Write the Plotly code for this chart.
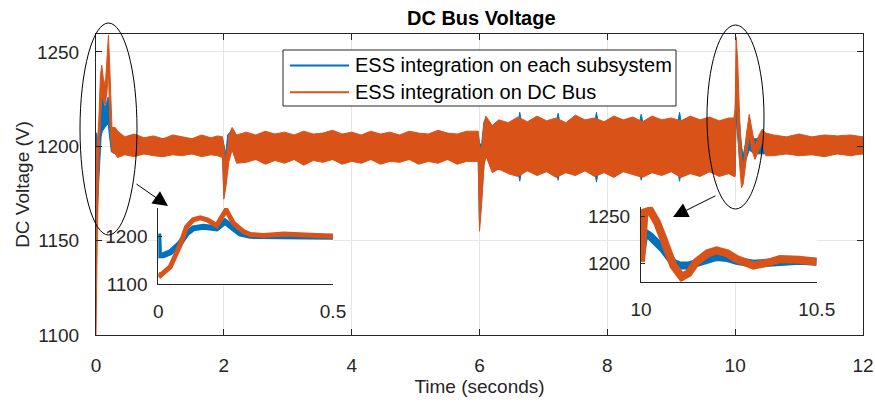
import plotly.graph_objects as go

BLUE = '#0072BD'
ORANGE = '#D95319'
AX = '#262626'
FONT = 'Liberation Sans, Arial, sans-serif'

# ---------------- main series (envelope of the noisy band) ----------------
t_orange = [0.0, 0.02, 0.045, 0.07, 0.09, 0.115, 0.145, 0.175, 0.195, 0.22, 0.25, 0.30, 0.34,
            0.45, 0.6, 0.75, 0.9, 1.05, 1.2, 1.35, 1.5, 1.65, 1.8, 1.9, 1.98,
            2.0, 2.03, 2.08, 2.13, 2.2, 2.35, 2.5, 2.65, 2.8, 2.95, 3.1, 3.25, 3.4, 3.55, 3.7, 3.85,
            4.0, 4.15, 4.3, 4.45, 4.6, 4.75, 4.9, 5.05, 5.2, 5.35, 5.5, 5.65, 5.8, 5.98,
            6.0, 6.03, 6.07, 6.1, 6.2, 6.3, 6.45, 6.6, 6.75, 6.9, 7.05, 7.2, 7.35, 7.5, 7.65, 7.8,
            7.95, 8.1, 8.25, 8.4, 8.55, 8.7, 8.85, 9.0, 9.15, 9.3, 9.45, 9.6, 9.75, 9.9, 9.98,
            10.0, 10.015, 10.04, 10.07, 10.1, 10.125, 10.17, 10.22, 10.26, 10.31, 10.36, 10.42, 10.48,
            10.6, 10.8, 11.0, 11.2, 11.4, 11.6, 11.8, 12.0]
up_orange = [1200, 1200, 1215, 1238, 1243, 1236, 1232, 1248, 1259, 1238, 1210, 1210, 1208,
             1205, 1206.5, 1204.5, 1205.5, 1204, 1206, 1205, 1204, 1206, 1204.5, 1205.5, 1205,
             1200, 1192, 1206, 1210, 1206, 1207.5, 1206, 1208, 1206.5, 1207.5, 1206, 1208, 1206.5, 1207, 1208.5, 1206.5,
             1207.5, 1206, 1208, 1206.5, 1207.5, 1206, 1208, 1207, 1206.5, 1208.5, 1207, 1206.5, 1208, 1208,
             1200, 1198, 1212, 1216, 1211, 1214, 1212.5, 1215.5, 1213, 1216, 1213.5, 1215, 1212.5, 1216.5, 1214, 1215,
             1213, 1216, 1214, 1215.5, 1213, 1216, 1214, 1215, 1213.5, 1216, 1214, 1215.5, 1213.5, 1215, 1215,
             1220, 1258, 1245, 1215, 1195, 1188, 1205, 1217, 1210, 1200, 1205, 1209, 1207,
             1206, 1205, 1206.5, 1205, 1206, 1205.5, 1206, 1205]
lo_orange = [1100, 1150, 1195, 1215, 1228, 1224, 1222, 1230, 1240, 1210, 1197, 1196, 1194,
             1195.5, 1194.5, 1196, 1195, 1194.5, 1195.5, 1195, 1196, 1194.5, 1195.5, 1195, 1194,
             1172, 1178, 1192, 1198, 1191, 1191.5, 1193, 1190.5, 1192.5, 1191, 1193, 1190, 1192.5, 1191.5, 1193, 1190.5,
             1192, 1191, 1193, 1190.5, 1192, 1191.5, 1193, 1190.5, 1192, 1191, 1193, 1190.5, 1192, 1192,
             1155, 1168, 1190, 1195, 1186, 1188, 1185.5, 1184, 1187, 1184.5, 1186.5, 1183.5, 1186, 1184.5, 1187, 1184,
             1186, 1183.5, 1186.5, 1185, 1183.5, 1186, 1184.5, 1186.5, 1183.5, 1185.5, 1184, 1186.5, 1184, 1185.5, 1184,
             1184, 1230, 1210, 1190, 1178, 1180, 1192, 1206, 1198, 1193, 1197, 1202, 1195,
             1195, 1196, 1195, 1195.5, 1194.5, 1196, 1195, 1196]

t_blue = [0.0, 0.01, 0.04, 0.08, 0.10, 0.14, 0.19, 0.24, 0.30, 1.98,
          2.0, 2.03, 2.06, 2.13, 2.2, 5.98,
          6.0, 6.03, 6.07, 6.1, 6.2,
          6.6, 6.63, 6.66, 7.2, 7.23, 7.26, 7.8, 7.83, 7.86, 8.5, 8.53, 8.56, 9.1, 9.13, 9.16, 9.98,
          10.0, 10.015, 10.04, 10.07, 10.1, 10.125, 10.17, 10.22, 10.3, 12.0]
up_blue = [1207, 1207, 1200, 1222, 1226, 1220, 1226, 1210, 1204, 1204,
           1201, 1196, 1206, 1209, 1205, 1206,
           1202, 1200, 1213, 1215, 1210,
           1212, 1218, 1212, 1212, 1217.5, 1212, 1212, 1218, 1212, 1212, 1217, 1212, 1212, 1218, 1212, 1213,
           1218, 1235, 1230, 1212, 1200, 1195, 1203, 1208, 1204, 1204]
lo_blue = [1200, 1160, 1175, 1205, 1208, 1210, 1212, 1197, 1196, 1196,
           1174, 1180, 1194, 1199, 1193, 1193,
           1158, 1170, 1190, 1195, 1188,
           1187, 1181.5, 1187, 1187, 1182, 1187, 1187, 1181, 1187, 1187, 1182, 1187, 1187, 1181.5, 1187, 1186,
           1185, 1215, 1205, 1192, 1188, 1186, 1193, 1198, 1196, 1196]

# ---------------- inset 1 (0 - 0.5 s) ----------------
t_in1_orange = [0, 0.006, 0.034, 0.062, 0.081, 0.1, 0.12, 0.14, 0.167, 0.194, 0.215, 0.244, 0.263,
                0.3, 0.36, 0.42, 0.5]
v_in1_orange = [1122, 1118, 1136, 1182, 1221, 1236, 1240, 1236, 1224, 1257, 1229, 1211, 1205,
                1203, 1206, 1203, 1201]
t_in1_blue = [0, 0.002, 0.014, 0.034, 0.062, 0.081, 0.1, 0.129, 0.167, 0.191, 0.215, 0.234, 0.263,
              0.32, 0.4, 0.5]
v_in1_blue = [1207, 1161, 1161, 1167, 1186, 1207, 1218, 1221, 1218, 1232, 1218, 1207, 1202,
              1202, 1203, 1200]

# ---------------- inset 2 (10 - 10.5 s) ----------------
t_in2_orange = [10.0, 10.01, 10.026, 10.045, 10.064, 10.092, 10.116, 10.135, 10.158, 10.19, 10.215,
                10.245, 10.272, 10.32, 10.36, 10.396, 10.45, 10.5]
v_in2_orange = [1202, 1254, 1256, 1244, 1226, 1198, 1186, 1190, 1202, 1211, 1214,
                1211, 1205, 1198, 1201, 1205, 1204, 1202]
t_in2_blue = [10.0, 10.01, 10.026, 10.045, 10.064, 10.092, 10.111, 10.135, 10.158, 10.19, 10.215,
              10.245, 10.272, 10.32, 10.36, 10.4, 10.45, 10.5]
v_in2_blue = [1208, 1233, 1229, 1223, 1215, 1201, 1198, 1198, 1200, 1204, 1207,
              1206, 1203, 1200, 1201, 1203, 1203, 1202]

# tick settings
main_xticks = [0, 2, 4, 6, 8, 10, 12]
main_yticks = [1100, 1150, 1200, 1250]
in1_xticks = [0, 0.5]
in1_yticks = [1100, 1200]
in2_xticks = [10, 10.5]
in2_yticks = [1200, 1250]

legend_names = ['ESS integration on each subsystem', 'ESS integration on DC Bus']
legend_colors = [BLUE, ORANGE]

fig = go.Figure()


def band(t, up, lo, color, name, xa='x', ya='y'):
    return go.Scatter(x=list(t) + list(t)[::-1], y=list(up) + list(lo)[::-1],
                      fill='toself', fillcolor=color, mode='lines', name=name,
                      line=dict(color=color, width=1), showlegend=False,
                      hoverinfo='skip', xaxis=xa, yaxis=ya)


fig.add_trace(band(t_blue, up_blue, lo_blue, BLUE, legend_names[0]))
fig.add_trace(band(t_orange, up_orange, lo_orange, ORANGE, legend_names[1]))

fig.add_trace(go.Scatter(x=t_in1_blue, y=v_in1_blue, mode='lines', line=dict(color=BLUE, width=6),
                         showlegend=False, xaxis='x2', yaxis='y2'))
fig.add_trace(go.Scatter(x=t_in1_orange, y=v_in1_orange, mode='lines', line=dict(color=ORANGE, width=5),
                         showlegend=False, xaxis='x2', yaxis='y2'))
fig.add_trace(go.Scatter(x=t_in2_blue, y=v_in2_blue, mode='lines', line=dict(color=BLUE, width=8),
                         showlegend=False, xaxis='x3', yaxis='y3'))
fig.add_trace(go.Scatter(x=t_in2_orange, y=v_in2_orange, mode='lines', line=dict(color=ORANGE, width=8),
                         showlegend=False, xaxis='x3', yaxis='y3'))

W, H = 875, 403
L, R, T, B = 96, 12, 34, 68
pw, ph = W - L - R, H - T - B


def px(xp):
    return (xp - L) / pw


def py(yp):
    return (H - B - yp) / ph


tickfont = dict(family=FONT, size=19, color=AX)
common_inset = dict(showline=True, linecolor=AX, linewidth=1, ticks='inside', ticklen=4,
                    tickcolor=AX, showgrid=False, zeroline=False, tickfont=tickfont, mirror=False,
                    automargin=False)

fig.update_layout(
    width=W, height=H, margin=dict(l=L, r=R, t=T, b=B, autoexpand=False),
    paper_bgcolor='white', plot_bgcolor='white',
    font=dict(family=FONT, color=AX),
    title=dict(text='<b>DC Bus Voltage</b>', x=0.55, xanchor='center', y=1 - 18 / H, yanchor='middle',
               font=dict(family=FONT, size=20, color='black')),
    showlegend=False,
    xaxis=dict(range=[0, 12], tickvals=main_xticks, ticks='inside', ticklen=6, tickcolor=AX,
               showline=True, linecolor=AX, linewidth=1, mirror='ticks', showgrid=True,
               gridcolor='#e6e6e6', zeroline=False, tickfont=tickfont, ticklabelstandoff=13,
               automargin=False,
               title=dict(text='Time (seconds)', font=dict(family=FONT, size=19, color=AX), standoff=2)),
    yaxis=dict(range=[1100, 1259.5], tickvals=main_yticks, ticks='inside', ticklen=6, tickcolor=AX,
               showline=True, linecolor=AX, linewidth=1, mirror='ticks', showgrid=True,
               gridcolor='#e6e6e6', zeroline=False, tickfont=tickfont, ticklabelstandoff=12,
               automargin=False,
               title=dict(text='DC Voltage (V)', font=dict(family=FONT, size=19, color=AX), standoff=2)),
    xaxis2=dict(domain=[px(158.3), px(333)], anchor='y2', range=[0, 0.5], tickvals=in1_xticks,
                ticklabelstandoff=10, **common_inset),
    yaxis2=dict(domain=[py(284), py(208)], anchor='x2', range=[1100, 1261], tickvals=in1_yticks,
                ticklabelstandoff=6, **common_inset),
    xaxis3=dict(domain=[px(641), px(816.7)], anchor='y3', range=[10, 10.5], tickvals=in2_xticks,
                ticklabelstandoff=10, **common_inset),
    yaxis3=dict(domain=[py(281.7), py(206.7)], anchor='x3', range=[1181, 1260], tickvals=in2_yticks,
                ticklabelstandoff=6, **common_inset),
)

# inset white backgrounds
for (x0, x1, y0, y1) in [(158.3, 333, 284, 208), (641, 816.7, 281.7, 206.7)]:
    fig.add_shape(type='rect', xref='paper', yref='paper', x0=px(x0), x1=px(x1), y0=py(y0), y1=py(y1),
                  fillcolor='white', line=dict(width=0), layer='below')

# legend box (drawn as shapes + text so its size matches the original)
fig.add_shape(type='rect', xref='paper', yref='paper', x0=px(283), x1=px(676), y0=py(106), y1=py(50),
              fillcolor='white', line=dict(color=AX, width=1))
for i, (name, col) in enumerate(zip(legend_names, legend_colors)):
    yy = 65.5 + i * 26.7
    fig.add_shape(type='line', xref='paper', yref='paper', x0=px(290), x1=px(349), y0=py(yy), y1=py(yy),
                  line=dict(color=col, width=2))
    fig.add_annotation(x=px(353), y=py(yy), xref='paper', yref='paper', text=name, showarrow=False,
                       xanchor='left', yanchor='middle', font=dict(family=FONT, size=20, color='black'))

# ellipses
for (x0, x1, y0, y1) in [(80, 137, 235, 23), (707, 764, 209, 25)]:
    fig.add_shape(type='circle', xref='paper', yref='paper', x0=px(x0), x1=px(x1), y0=py(y0), y1=py(y1),
                  line=dict(color='black', width=1))

# arrows
for (tx, ty, ax, ay) in [(168, 206, 135, 183), (673, 217, 717, 195)]:
    fig.add_annotation(x=px(tx), y=py(ty), xref='paper', yref='paper', ax=ax - tx, ay=ay - ty,
                       showarrow=True, arrowhead=2, arrowsize=3, arrowwidth=1, arrowcolor='black',
                       text='')

fig.write_html('out.html')
